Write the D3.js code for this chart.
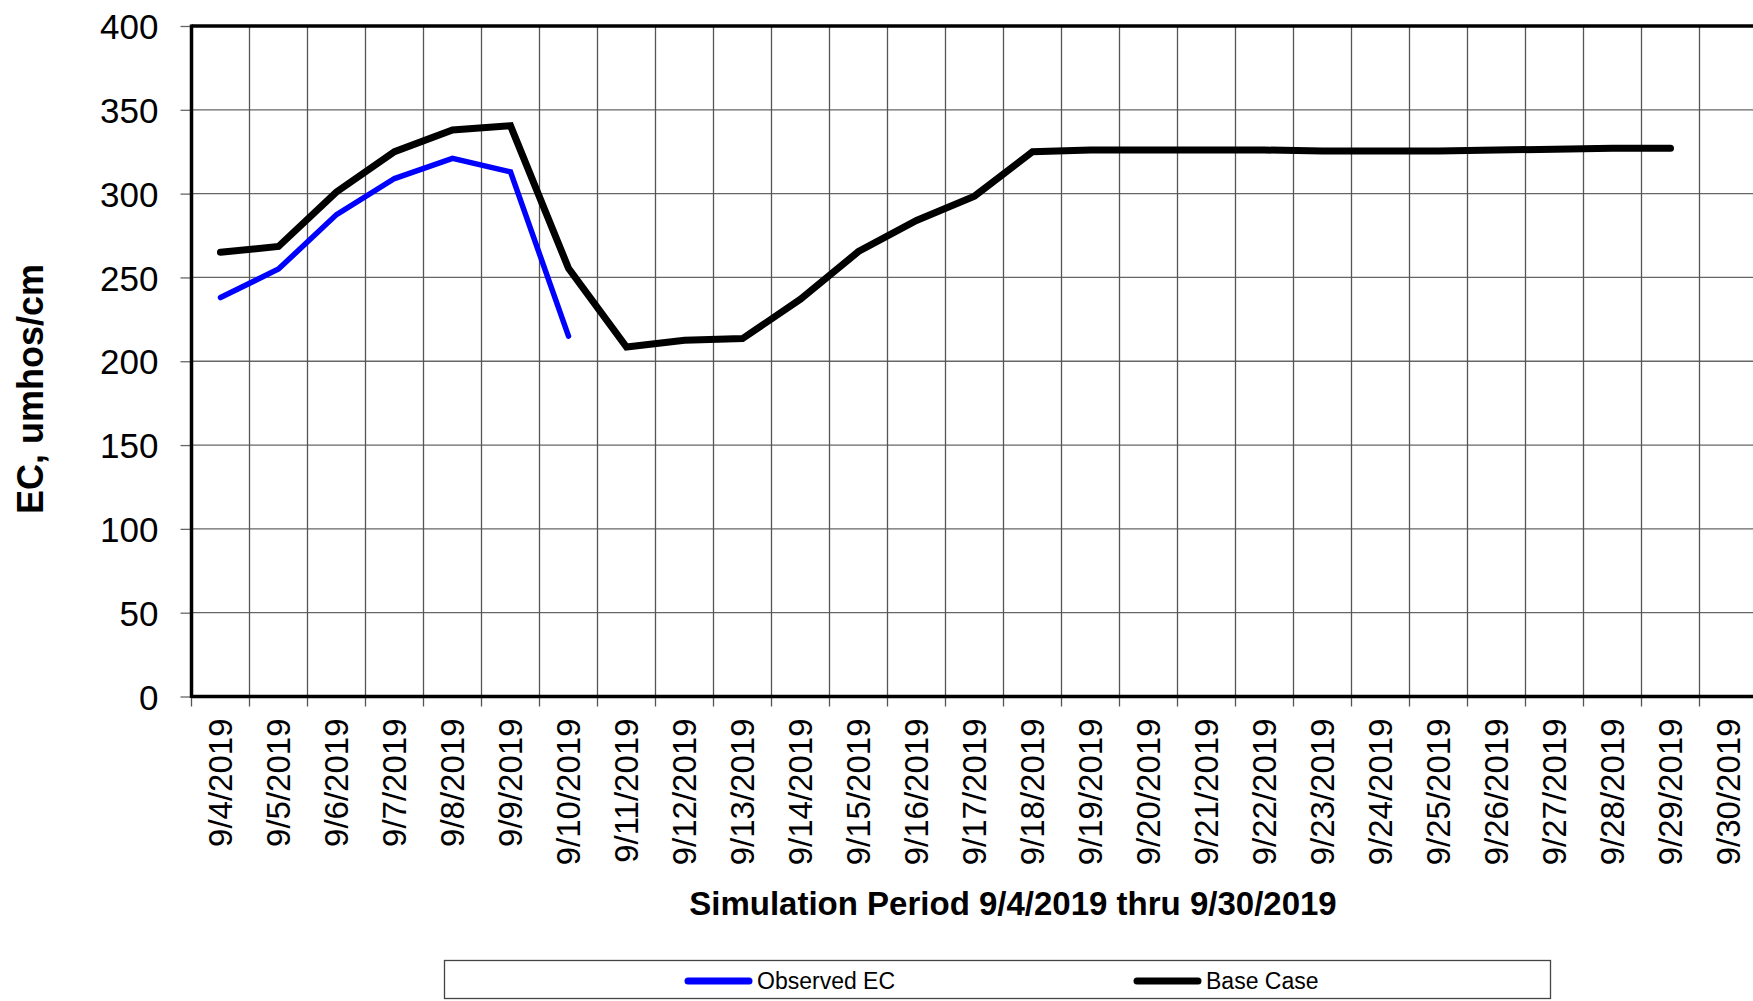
<!DOCTYPE html>
<html>
<head>
<meta charset="utf-8">
<script src="https://cdn.jsdelivr.net/npm/d3@7"></script>
<style>
  body { margin: 0; background: #fff; }
  svg { display: block; font-family: "Liberation Sans", Arial, sans-serif; }
</style>
</head>
<body>
<svg id="chart"></svg>
<script>
const width = 1753;
const height = 1001;

const dates = [
    "9/4/2019", "9/5/2019", "9/6/2019", "9/7/2019", "9/8/2019", "9/9/2019",
    "9/10/2019", "9/11/2019", "9/12/2019", "9/13/2019", "9/14/2019", "9/15/2019",
    "9/16/2019", "9/17/2019", "9/18/2019", "9/19/2019", "9/20/2019", "9/21/2019",
    "9/22/2019", "9/23/2019", "9/24/2019", "9/25/2019", "9/26/2019", "9/27/2019",
    "9/28/2019", "9/29/2019", "9/30/2019"
];
const observedEC = [238, 255, 287.5, 309, 321, 313, 215];
const baseCase = [
    265, 268.5, 301, 325, 338, 340.5, 255.5, 208.5, 212.5, 213.5, 237, 265.5,
    284, 298.5, 325, 326, 326, 326, 326, 325.5, 325.5, 325.5, 326, 326.5,
    327, 327
];
const yTicks = [0, 50, 100, 150, 200, 250, 300, 350, 400];

const series = [
    { name: "Observed EC", values: observedEC, color: "#0000ff", width: 5.5 },
    { name: "Base Case", values: baseCase, color: "#000000", width: 7 },
];

const plot = { left: 191.5, top: 26, right: 1757.5, bottom: 696.5 };

const svg = d3.select("#chart").attr("width", width).attr("height", height);

const x = d3.scaleBand().domain(dates).range([plot.left, plot.right]);
const y = d3.scaleLinear().domain([0, 400]).range([plot.bottom, plot.top]);

// grid
const grid = svg.append("g");
grid.selectAll(".hgrid")
    .data(yTicks)
    .enter()
    .append("line")
    .attr("x1", plot.left)
    .attr("x2", plot.right)
    .attr("y1", (d) => y(d))
    .attr("y2", (d) => y(d))
    .style("stroke", "#666")
    .style("stroke-width", 1.3);

const edges = dates.map((d) => x(d)).concat([plot.right]);
grid.selectAll(".vgrid")
    .data(edges)
    .enter()
    .append("line")
    .attr("x1", (d) => d)
    .attr("x2", (d) => d)
    .attr("y1", plot.top)
    .attr("y2", plot.bottom)
    .style("stroke", "#555")
    .style("stroke-width", 1.3);

// y axis
const yAxis = svg.append("g")
    .attr("transform", `translate(${plot.left},0)`)
    .call(d3.axisLeft(y).tickValues(yTicks).tickSize(11).tickPadding(22));
yAxis.select(".domain").remove();
yAxis.selectAll(".tick line").style("stroke", "#666").style("stroke-width", 1.3);
yAxis.selectAll("text")
    .style("font-size", "35px")
    .style("fill", "#000")
    .attr("dy", "0.36em");

// x axis ticks at band edges
svg.append("g")
    .selectAll("line")
    .data(edges)
    .enter()
    .append("line")
    .attr("x1", (d) => d)
    .attr("x2", (d) => d)
    .attr("y1", plot.bottom)
    .attr("y2", plot.bottom + 10)
    .style("stroke", "#555")
    .style("stroke-width", 1.3);

svg.append("g")
    .selectAll("text")
    .data(dates)
    .enter()
    .append("text")
    .attr("transform", (d) => `translate(${x(d) + x.bandwidth() / 2},${plot.bottom + 22}) rotate(-90)`)
    .attr("text-anchor", "end")
    .attr("dy", "0.36em")
    .style("font-size", "33px")
    .text((d) => d);

// frame: left, bottom, top
svg.append("line")
    .attr("x1", plot.left).attr("x2", plot.left)
    .attr("y1", plot.top - 1.5).attr("y2", plot.bottom + 1.5)
    .style("stroke", "#000").style("stroke-width", 3.5);
svg.append("line")
    .attr("x1", plot.left).attr("x2", plot.right)
    .attr("y1", plot.bottom).attr("y2", plot.bottom)
    .style("stroke", "#000").style("stroke-width", 3.5);
svg.append("line")
    .attr("x1", plot.left).attr("x2", plot.right)
    .attr("y1", plot.top).attr("y2", plot.top)
    .style("stroke", "#000").style("stroke-width", 3.5);

// lines
const line = d3.line()
    .defined((d) => d != null)
    .x((d, i) => x(dates[i]) + x.bandwidth() / 2)
    .y((d) => y(d));

svg.append("g")
    .selectAll("path")
    .data(series.slice().reverse())
    .enter()
    .append("path")
    .attr("d", (s) => line(s.values))
    .style("fill", "none")
    .style("stroke", (s) => s.color)
    .style("stroke-width", (s) => s.width)
    .style("stroke-linecap", "round")
    .style("stroke-linejoin", "miter");

// axis titles
svg.append("text")
    .attr("transform", `translate(43,389) rotate(-90)`)
    .attr("text-anchor", "middle")
    .style("font-size", "36px")
    .style("font-weight", "bold")
    .text("EC, umhos/cm");

svg.append("text")
    .attr("x", 1013)
    .attr("y", 915)
    .attr("text-anchor", "middle")
    .style("font-size", "33px")
    .style("font-weight", "bold")
    .text("Simulation Period 9/4/2019 thru 9/30/2019");

// legend
const legend = svg.append("g");
legend.append("rect")
    .attr("x", 444.5)
    .attr("y", 960.5)
    .attr("width", 1106)
    .attr("height", 38)
    .style("fill", "#fff")
    .style("stroke", "#444")
    .style("stroke-width", 1.3);

const legendX = [688, 1137];
const items = legend.selectAll(".item")
    .data(series)
    .enter()
    .append("g")
    .attr("transform", (d, i) => `translate(${legendX[i]},981)`);
items.append("line")
    .attr("x1", 0)
    .attr("x2", 61)
    .style("stroke", (d) => d.color)
    .style("stroke-width", 7)
    .style("stroke-linecap", "round");
items.append("text")
    .attr("x", 69)
    .attr("dy", "0.36em")
    .style("font-size", "23px")
    .text((d) => d.name);
</script>
</body>
</html>
